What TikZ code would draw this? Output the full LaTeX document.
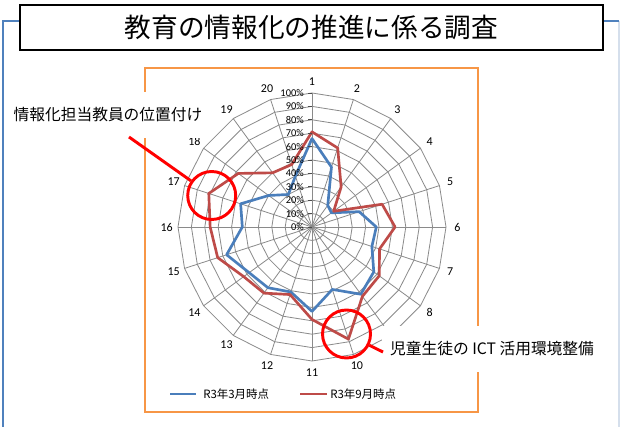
\documentclass[tikz,border=0pt]{standalone}
\usepackage{fontspec}
\setmainfont{Carlito}
\newfontfamily\jp{Noto Sans CJK JP}
\definecolor{frameblue}{HTML}{4F81BD}
\definecolor{framelight}{HTML}{D5DFEC}
\definecolor{chartorange}{HTML}{F79646}
\definecolor{gridgray}{HTML}{8A8A8A}
\definecolor{serblue}{HTML}{4A7EBB}
\definecolor{serred}{HTML}{BE4B48}
\begin{document}
\begin{tikzpicture}[x=0.75pt,y=-0.75pt,
  gridline/.style={gridgray, line width=0.6pt},
  serb/.style={serblue, line width=2pt, line join=round},
  serr/.style={serred, line width=2pt, line join=round},
  callcircle/.style={circle, draw=red, line width=2.2pt, minimum size=36pt, inner sep=0pt},
  callline/.style={red, line width=2.2pt},
  calltext/.style={fill=white, inner sep=0pt, font=\jp\fontsize{11.8pt}{14pt}\selectfont},
  axlabel/.style={inner sep=0pt, font=\fontsize{9pt}{10pt}\selectfont},
  ticklabel/.style={inner sep=0pt, anchor=east, font=\fontsize{7.8pt}{9pt}\selectfont},
  legtext/.style={inner sep=0pt, anchor=west, font=\jp\fontsize{8.6pt}{10pt}\selectfont}]
\useasboundingbox (0,0) rectangle (621,427);
\fill[white] (0,0) rectangle (621,427);

% outer frame
\draw[framelight, line width=1pt] (619,21) -- (619,427);
\draw[frameblue, line width=1.6pt] (3,427) -- (3,21) -- (619,21);

% chart area
\draw[chartorange, line width=1.6pt] (145,68) rectangle (478,412);

% radar chart
\begin{scope}[shift={(312,227)}]
\begin{scope}[yscale=-1, scale=134]
  \foreach \i in {1,...,10}
    \draw[gridline] (90:{0.1*\i}) \foreach \k in {1,...,19} { -- ({90-18*\k}:{0.1*\i}) } -- cycle;
  \foreach \k in {0,...,19}
    \draw[gridline] (0,0) -- ({90-18*\k}:1);
  % series R3 March
  \draw[serb] (90:0.66) -- (72:0.47) -- (54:0.20) -- (36:0.18) -- (18:0.37)
    -- (0:0.48) -- (-18:0.47) -- (-36:0.57) -- (-54:0.62) -- (-72:0.49)
    -- (-90:0.63) -- (-108:0.51) -- (-126:0.56) -- (-144:0.58) -- (-162:0.67)
    -- (180:0.52) -- (162:0.56) -- (144:0.40) -- (126:0.30) -- (108:0.40) -- cycle;
  % series R3 September
  \draw[serr] (90:0.71) -- (72:0.62) -- (54:0.37) -- (36:0.20) -- (18:0.55)
    -- (0:0.62) -- (-18:0.53) -- (-36:0.62) -- (-54:0.64) -- (-72:0.88)
    -- (-90:0.69) -- (-108:0.53) -- (-126:0.61) -- (-144:0.63) -- (-162:0.74)
    -- (180:0.76) -- (162:0.81) -- (144:0.68) -- (126:0.50) -- (108:0.49) -- cycle;
  % axis labels
  \foreach \k in {1,...,8,10,11,...,20}
    \node[axlabel] (ax\k) at ({90-18*(\k-1)}:1.085) {\k};
\end{scope}
\end{scope}

% value labels and ticks
\foreach \i in {0,...,10} {
  \draw[black!70, line width=0.5pt] (308,{227-13.4*\i}) -- (312,{227-13.4*\i});
  \pgfmathtruncatemacro{\pct}{10*\i}
  \node[ticklabel] (t\i) at (304,{227-13.4*\i}) {\pct\%};
}

% legend
\coordinate (lb1) at (170,394);
\coordinate (lb2) at (196,394);
\coordinate (lr1) at (300,394);
\coordinate (lr2) at (327,394);
\draw[serb] (lb1) -- (lb2);
\draw[serr] (lr1) -- (lr2);
\node[legtext] (leg1) at (203,394) {R3年3月時点};
\node[legtext] (leg2) at (330,394) {R3年9月時点};

% callouts
\node[callcircle] (c17) at (211.7,195.5) {};
\node[callcircle] (c10) at (346.5,334) {};
\node[calltext, minimum width=150pt, minimum height=34pt] (lbl17) at (108,115) {情報化担当教員の位置付け};
\node[calltext, minimum width=165pt, minimum height=35pt] (lbl10) at (492,349) {児童生徒の ICT 活用環境整備};
\coordinate (s17) at (129,137);
\coordinate (s10) at (383,352);
\draw[callline] (s17) -- (c17);
\draw[callline] (c10) -- (s10);

% title
\node[draw=black, line width=1.1pt, fill=white, minimum width=437pt, minimum height=33.5pt,
  inner sep=0pt, font=\jp\fontsize{20pt}{24pt}\selectfont] (title) at (311.5,27.5) {教育の情報化の推進に係る調査};
\end{tikzpicture}
\end{document}
